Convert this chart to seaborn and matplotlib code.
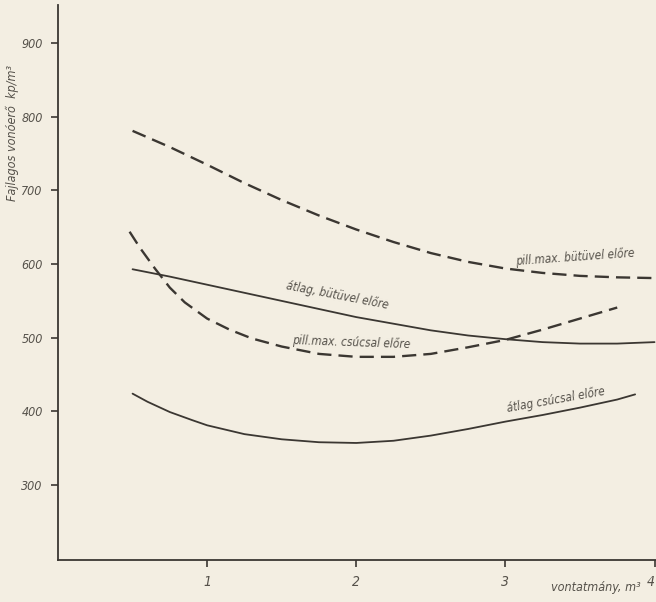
import seaborn as sns
import pandas as pd
import matplotlib.pyplot as plt

# values (x = vontatmány m3, y = kp/m3)
x_pmax_butu = [0.5, 0.75, 1.0, 1.25, 1.5, 1.75, 2.0, 2.25, 2.5, 2.75, 3.0, 3.25, 3.5, 3.75, 4.0]
y_pmax_butu = [781, 759, 735, 710, 687, 666, 647, 630, 615, 603, 594, 588, 584, 582, 581]

x_atl_butu = [0.5, 0.75, 1.0, 1.25, 1.5, 1.75, 2.0, 2.25, 2.5, 2.75, 3.0, 3.25, 3.5, 3.75, 4.0]
y_atl_butu = [593, 583, 572, 561, 550, 539, 528, 519, 510, 503, 498, 494, 492, 492, 494]

x_pmax_csucs = [0.48, 0.55, 0.65, 0.75, 0.85, 1.0, 1.15, 1.3, 1.5, 1.75, 2.0, 2.25, 2.5, 2.75, 3.0, 3.25, 3.5, 3.75]
y_pmax_csucs = [644, 622, 594, 568, 548, 526, 511, 499, 488, 478, 474, 474, 478, 487, 497, 511, 526, 541]

x_atl_csucs = [0.5, 0.6, 0.75, 0.9, 1.0, 1.25, 1.5, 1.75, 2.0, 2.25, 2.5, 2.75, 3.0, 3.25, 3.5, 3.75, 3.87]
y_atl_csucs = [424, 413, 399, 388, 381, 369, 362, 358, 357, 360, 367, 376, 386, 395, 405, 416, 423]

x_ticks = [1, 2, 3, 4]
y_ticks = [300, 400, 500, 600, 700, 800, 900]

# curve labels: text, x, y, rotation
labels = [
    ("pill.max. bütüvel előre", 3.47, 609, 4),
    ("átlag, bütüvel előre", 1.87, 557, -11),
    ("pill.max. csúcsal előre", 1.97, 493, -2),
    ("átlag csúcsal előre", 3.34, 415, 10),
]

paper = "#f3eee2"
ink = "#3b3732"
txt_col = "#55514a"
sns.set_style("ticks")
plt.rcParams["font.family"] = ["DejaVu Sans"]
plt.rcParams["font.stretch"] = "condensed"
plt.rcParams["font.style"] = "italic"

fig = plt.figure(figsize=(6.56, 6.02), dpi=100, facecolor=paper)
ax = fig.add_axes([58 / 656, 42 / 602, 598 / 656, 555 / 602])
ax.set_facecolor(paper)

# draw the four curves
series = [
    (x_pmax_butu, y_pmax_butu, (6, 3)),
    (x_atl_butu, y_atl_butu, None),
    (x_pmax_csucs, y_pmax_csucs, (6, 3)),
    (x_atl_csucs, y_atl_csucs, None),
]
for xs, ys, dash in series:
    df = pd.DataFrame({"x": xs, "y": ys})
    if dash:
        sns.lineplot(data=df, x="x", y="y", ax=ax, color=ink, lw=1.7,
                     linestyle=(0, dash))
    else:
        sns.lineplot(data=df, x="x", y="y", ax=ax, color=ink, lw=1.3)

for txt, tx, ty, rot in labels:
    ax.text(tx, ty, txt, rotation=rot, ha="center", va="center",
            fontsize=8.5, color=txt_col, rotation_mode="anchor")

ax.set_xlim(0, 4.01)
ax.set_ylim(198, 952)
ax.set_xticks(x_ticks)
ax.set_yticks(y_ticks)
ax.set_xticklabels([str(v) for v in x_ticks], fontsize=10, color=txt_col)
ax.set_yticklabels([str(v) for v in y_ticks], fontsize=9, color=txt_col)
ax.get_xticklabels()[-1].set_horizontalalignment("right")
ax.tick_params(axis="both", length=5, width=1.2, color=ink, pad=6)
ax.set_xlabel("")
ax.set_ylabel("")
sns.despine(ax=ax)
for s in ("left", "bottom"):
    ax.spines[s].set_color(ink)
    ax.spines[s].set_linewidth(1.3)

# axis titles
ax.text(-0.077, 0.77, "Fajlagos vonóerő  kp/m³", rotation=90, transform=ax.transAxes,
        ha="center", va="center", fontsize=9, color=txt_col)
ax.text(0.975, -0.05, "vontatmány, m³", transform=ax.transAxes,
        ha="right", va="center", fontsize=9, color=txt_col)

fig.savefig("out.png", dpi=100, facecolor=paper)
